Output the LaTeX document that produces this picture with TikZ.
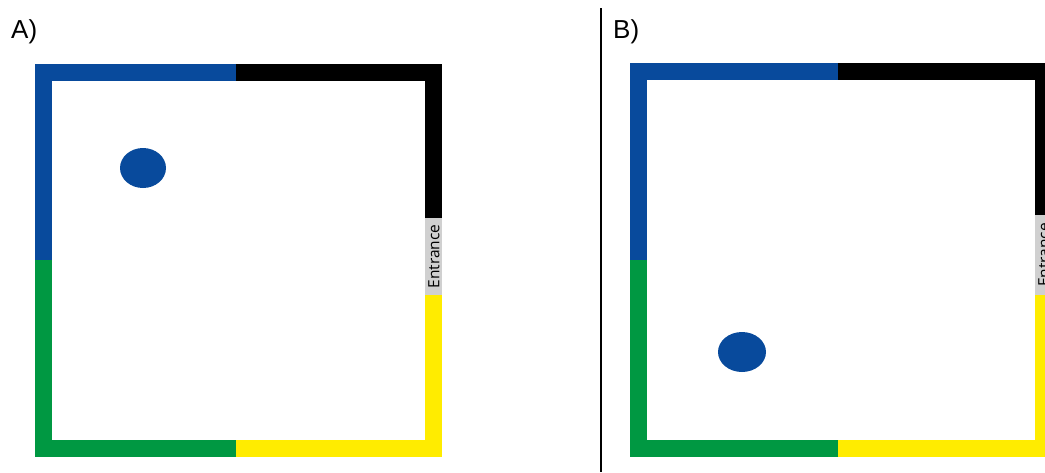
\documentclass[tikz,border=0pt]{standalone}
\usepackage{fontspec}
\setmainfont{Liberation Sans}
\newfontfamily\entfont{Open Sans}
\definecolor{wblue}{RGB}{8,74,156}
\definecolor{wgreen}{RGB}{0,152,66}
\definecolor{wyellow}{RGB}{255,236,0}
\definecolor{wgray}{RGB}{208,208,208}
\tikzset{
  panellabel/.style={anchor=base west, inner sep=0pt, font=\fontsize{26}{30}\selectfont},
  enttext/.style={rotate=90, inner sep=0pt, font=\entfont\fontsize{15.5}{17}\selectfont},
  ball/.style={fill=wblue, draw=none}
}
\begin{document}
\begin{tikzpicture}[x=1pt,y=-1pt]
\useasboundingbox (0,0) rectangle (1045,472);
\clip (0,0) rectangle (1045,472);
\fill[white] (0,0) rectangle (1045,472);
% ---------- Panel A ----------
\fill[wblue]   (35,64) rectangle (236,81);
\fill[black]   (236,64) rectangle (442,81);
\fill[black]   (425,64) rectangle (442,218);
\fill[wgray]   (425,218) rectangle (442,295);
\fill[wyellow] (425,295) rectangle (442,457);
\fill[wyellow] (236,440) rectangle (442,457);
\fill[wgreen]  (35,440) rectangle (236,457);
\fill[wgreen]  (35,260) rectangle (52,457);
\fill[wblue]   (35,64) rectangle (52,260);
\node[enttext] (entA) at (434,256.5) {Entrance};
\fill[ball] (143,168) ellipse [x radius=23, y radius=20];
\node[panellabel] (labA) at (11,38) {A)};
% ---------- divider ----------
\coordinate (dtop) at (601,8);
\coordinate (dbot) at (601,472);
\draw[line width=2pt] (dtop) -- (dbot);
% ---------- Panel B ----------
\fill[wblue]   (630,63) rectangle (838,80);
\fill[black]   (838,63) rectangle (1052,80);
\fill[black]   (1035,63) rectangle (1052,215);
\fill[wgray]   (1035,215) rectangle (1052,295);
\fill[wyellow] (1035,295) rectangle (1052,457);
\fill[wyellow] (838,440) rectangle (1052,457);
\fill[wgreen]  (630,440) rectangle (838,457);
\fill[wgreen]  (630,260) rectangle (647,457);
\fill[wblue]   (630,63) rectangle (647,260);
\node[enttext] (entB) at (1044,255) {Entrance};
\fill[ball] (742,352) ellipse [x radius=24, y radius=20];
\node[panellabel] (labB) at (613,38) {B)};
\end{tikzpicture}
\end{document}
